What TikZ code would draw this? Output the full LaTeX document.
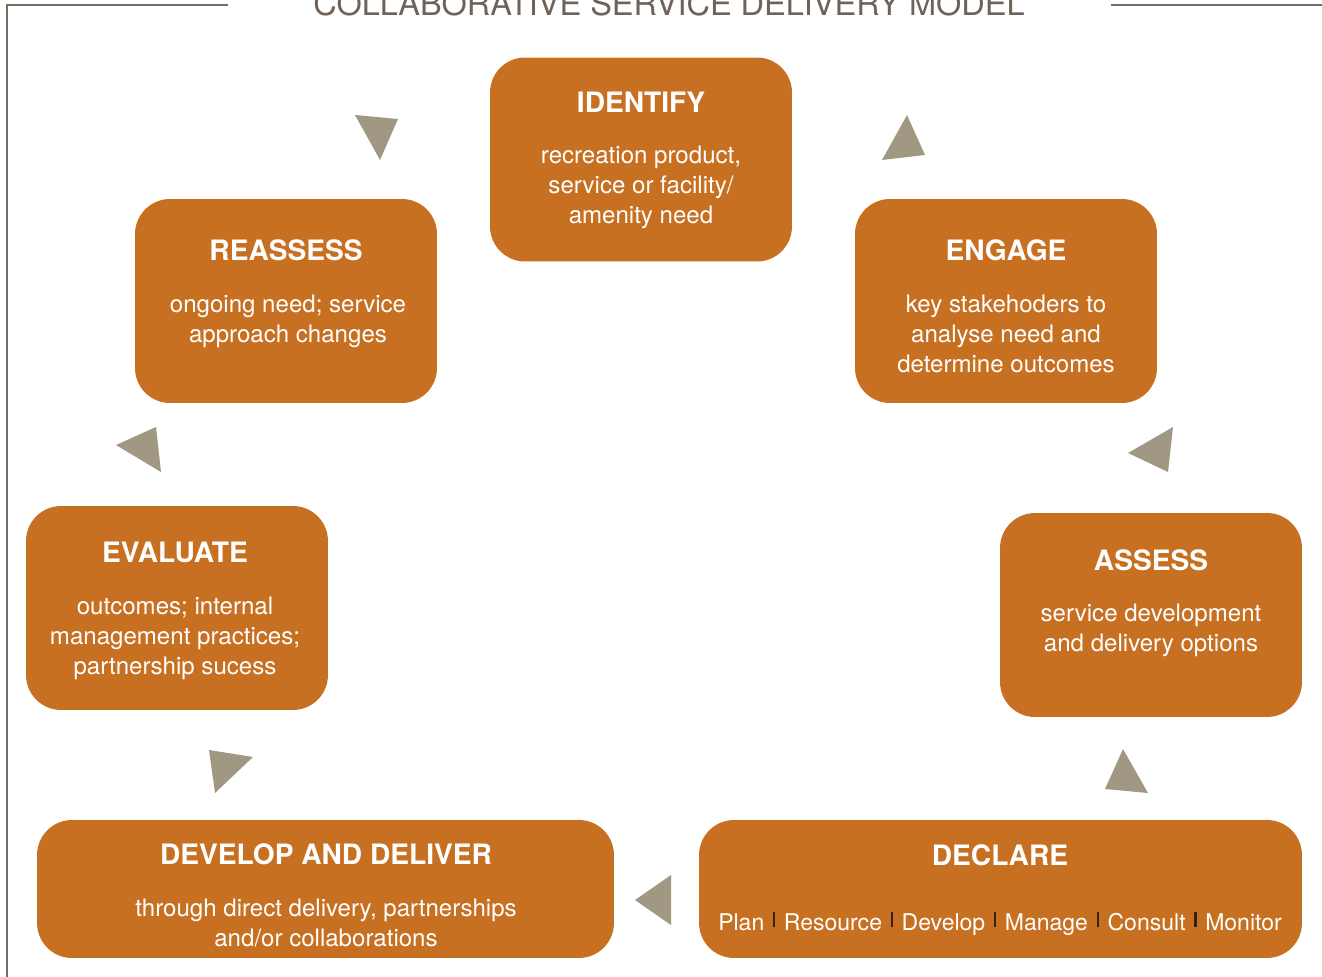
\documentclass[tikz,border=0pt]{standalone}
\usepackage{fontspec}
\setmainfont{TeX Gyre Heros}
\usetikzlibrary{positioning}

\definecolor{boxc}{RGB}{200,112,34}
\definecolor{arrowc}{RGB}{160,152,130}
\definecolor{framec}{RGB}{122,109,98}
\definecolor{titlec}{RGB}{110,98,89}
\definecolor{barc}{RGB}{50,35,20}

\newcommand{\sepbar}{\hspace{0.38em}\textcolor{barc}{\rule[1.5pt]{1.2pt}{9pt}}\hspace{0.38em}}

\begin{document}
\begin{tikzpicture}[x=0.02cm, y=-0.02cm,
  stage/.style={fill=boxc, rounded corners=0.7cm, inner sep=0pt, minimum width=6.04cm, minimum height=4.08cm},
  wide/.style={stage, minimum height=2.76cm},
  head/.style={text=white, font=\bfseries\fontsize{16}{19}\selectfont, anchor=base},
  body/.style={text=white, font=\fontsize{13.7}{17}\selectfont, align=center, anchor=base},
  tri/.style={fill=arrowc}]
\useasboundingbox (0,0) rectangle (1322,977);

\draw[framec, line width=1.1pt] (7,977) -- (7,5) -- (228,5);
\draw[framec, line width=1.1pt] (1111,5) -- (1322,5);
\node[text=titlec, font=\fontsize{18.5}{22}\selectfont, anchor=base] (title) at (669,15) {COLLABORATIVE SERVICE DELIVERY MODEL};

\node[stage] (identify) at (641,159.5) {};
\node[stage] (reassess) at (286,301) {};
\node[stage] (engage) at (1006,301) {};
\node[stage] (evaluate) at (177,608) {};
\node[stage] (assess) at (1151,615) {};
\node[wide, minimum width=11.54cm] (develop) at (325.5,889) {};
\node[wide, minimum width=12.06cm] (declare) at (1000.5,889) {};

\node[head] (identifyhead) at (641,112) {IDENTIFY};
\node[body] (identifytext) at (641,223) {recreation product,\\ service or facility/\\ amenity need};
\node[head] (reassesshead) at (286,260) {REASSESS};
\node[body] (reassesstext) at (288,342) {ongoing need; service\\ approach changes};
\node[head] (engagehead) at (1006,260) {ENGAGE};
\node[body] (engagetext) at (1006,372) {key stakehoders to\\ analyse need and\\ determine outcomes};
\node[head] (evaluatehead) at (175,562) {EVALUATE};
\node[body] (evaluatetext) at (175,674) {outcomes; internal\\ management practices;\\ partnership sucess};
\node[head] (assesshead) at (1151,570) {ASSESS};
\node[body] (assesstext) at (1151,651) {service development\\ and delivery options};
\node[head] (develophead) at (326,864) {DEVELOP AND DELIVER};
\node[body] (developtext) at (326,946) {through direct delivery, partnerships\\ and/or collaborations};
\node[head] (declarehead) at (1000,865) {DECLARE};
\node[body, font=\fontsize{13.1}{17}\selectfont] (declaretext) at (1000,930) {Plan\sepbar Resource\sepbar Develop\sepbar Manage\sepbar Consult\sepbar Monitor};

\fill[tri] (355,115) -- (398,119) -- (380,160) -- cycle;
\fill[tri] (907,115) -- (925,155) -- (882,160) -- cycle;
\fill[tri] (116,445) -- (156,427) -- (161,472) -- cycle;
\fill[tri] (1128,453) -- (1173,427) -- (1168,472) -- cycle;
\fill[tri] (209,750) -- (253,757) -- (215,793) -- cycle;
\fill[tri] (1123,749) -- (1148,793) -- (1105,789) -- cycle;
\fill[tri] (635,900) -- (671,875) -- (671,925) -- cycle;
\end{tikzpicture}
\end{document}
